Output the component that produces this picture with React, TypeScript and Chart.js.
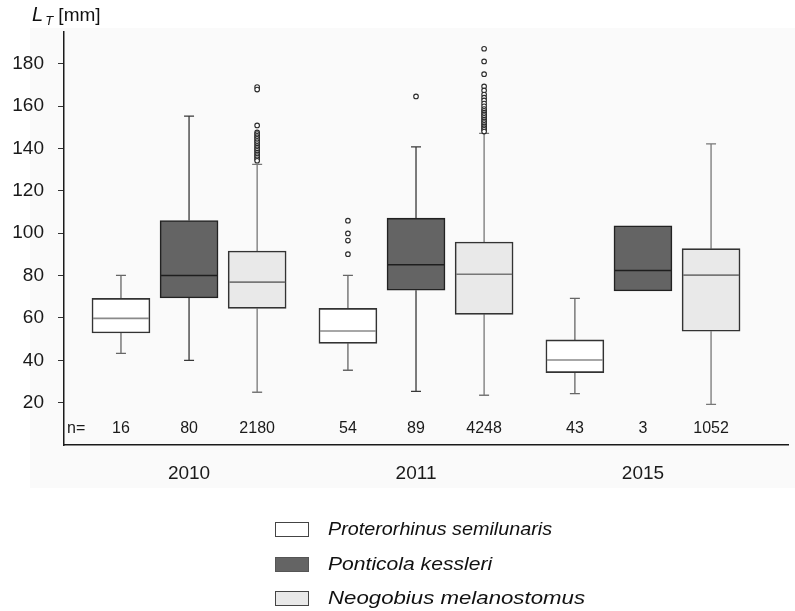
import React, { useEffect, useRef } from "react";
import { Chart, registerables } from "chart.js";

Chart.register(...registerables);

const years = ["2010", "2011", "2015"];
const species = ["Proterorhinus semilunaris", "Ponticola kessleri", "Neogobius melanostomus"];
const yTicks = [20, 40, 60, 80, 100, 120, 140, 160, 180];

// Proterorhinus semilunaris
const psLow = [43.3, 35.3, 24.3];
const psQ1 = [52.9, 48.0, 34.2];
const psMed = [59.8, 53.8, 40.1];
const psQ3 = [69.2, 64.5, 49.6];
const psHigh = [80.1, 80.1, 69.2];
const psN = [16, 54, 43];

// Ponticola kessleri
const pkLow = [40.0, 25.3, null];
const pkQ1 = [69.4, 73.1, 72.7];
const pkMed = [80.0, 85.1, 82.4];
const pkQ3 = [106.0, 107.1, 103.5];
const pkHigh = [155.3, 140.8, null];
const pkN = [80, 89, 3];

// Neogobius melanostomus
const nmLow = [24.9, 23.5, 19.2];
const nmQ1 = [64.5, 61.7, 53.7];
const nmMed = [76.9, 80.6, 80.2];
const nmQ3 = [91.6, 95.8, 92.7];
const nmHigh = [132.5, 147.1, 142.2];
const nmN = [2180, 4248, 1052];

// outliers
const psOut2011 = [105.9, 99.9, 96.5, 90.1];
const pkOut2011 = [164.6];
const nmOut2010 = [169.0, 167.8, 150.9, 147.6, 146.8, 146.0, 145.3, 144.5, 143.6, 142.9, 142.1, 141.2, 140.4, 139.6, 138.9, 138.0, 137.2, 136.4, 135.7, 134.9, 134.2];
const nmOut2011 = [187.1, 181.1, 175.1, 169.3, 167.4, 165.5, 164.0, 162.7, 161.2, 159.9, 158.6, 157.8, 156.9, 156.1, 155.3, 154.5, 153.6, 152.8, 152.0, 151.2, 150.4, 149.6, 148.8, 148.0];

const speciesOffset = [-0.3, 0, 0.3];
const FONT = "'Liberation Sans', Arial, sans-serif";

const stats = [
  { low: psLow, q1: psQ1, med: psMed, q3: psQ3, high: psHigh, n: psN, fill: "#ffffff", border: "#333333", median: "#8a8a8a", whisker: "#666666" },
  { low: pkLow, q1: pkQ1, med: pkMed, q3: pkQ3, high: pkHigh, n: pkN, fill: "#646464", border: "#222222", median: "#1e1e1e", whisker: "#383838" },
  { low: nmLow, q1: nmQ1, med: nmMed, q3: nmQ3, high: nmHigh, n: nmN, fill: "#e9e9e9", border: "#333333", median: "#777777", whisker: "#777777" },
];

const outlierSets = [
  { s: 0, g: 1, vals: psOut2011 },
  { s: 1, g: 1, vals: pkOut2011 },
  { s: 2, g: 0, vals: nmOut2010 },
  { s: 2, g: 1, vals: nmOut2011 },
];

const boxPlugin = {
  id: "boxParts",
  beforeDraw(chart: any) {
    const ctx = chart.ctx;
    ctx.save();
    ctx.fillStyle = "#fafafa";
    ctx.fillRect(30, 28, 765, 460);
    ctx.restore();
  },
  beforeDatasetsDraw(chart: any) {
    const ctx = chart.ctx;
    const xs = chart.scales.x;
    const ys = chart.scales.y;
    ctx.save();
    ctx.lineWidth = 1.3;
    stats.forEach((st, s) => {
      years.forEach((_, g) => {
        const xc = xs.getPixelForValue(g + speciesOffset[s]);
        ctx.strokeStyle = st.whisker;
        const seg = (a: number, b: number) => {
          const ya = ys.getPixelForValue(a);
          const yb = ys.getPixelForValue(b);
          ctx.beginPath();
          ctx.moveTo(xc, ya);
          ctx.lineTo(xc, yb);
          ctx.moveTo(xc - 5, yb);
          ctx.lineTo(xc + 5, yb);
          ctx.stroke();
        };
        if (st.high[g] != null) seg(st.q3[g], st.high[g] as number);
        if (st.low[g] != null) seg(st.q1[g], st.low[g] as number);
      });
    });
    ctx.restore();
  },
  afterDatasetsDraw(chart: any) {
    const ctx = chart.ctx;
    const xs = chart.scales.x;
    const ys = chart.scales.y;
    const area = chart.chartArea;
    ctx.save();
    stats.forEach((st, s) => {
      const meta = chart.getDatasetMeta(s);
      years.forEach((_, g) => {
        const el = meta.data[g];
        const w = el.width;
        const xc = xs.getPixelForValue(g + speciesOffset[s]);
        const ym = ys.getPixelForValue(st.med[g]);
        ctx.strokeStyle = st.median;
        ctx.lineWidth = 1.6;
        ctx.beginPath();
        ctx.moveTo(xc - w / 2 + 1, ym);
        ctx.lineTo(xc + w / 2 - 1, ym);
        ctx.stroke();
      });
    });
    // n labels
    ctx.fillStyle = "#1a1a1a";
    ctx.font = `16px ${FONT}`;
    ctx.textBaseline = "middle";
    ctx.textAlign = "left";
    ctx.fillText("n=", area.left + 3, area.bottom - 16);
    ctx.textAlign = "center";
    stats.forEach((st, s) => {
      years.forEach((_, g) => {
        const xc = xs.getPixelForValue(g + speciesOffset[s]);
        ctx.fillText(String(st.n[g]), xc, area.bottom - 16);
      });
    });
    // year labels
    ctx.font = `19px ${FONT}`;
    years.forEach((y, g) => {
      ctx.fillText(y, xs.getPixelForValue(g), area.bottom + 29);
    });
    ctx.restore();
  },
};

export default function App() {
  const ref = useRef<HTMLCanvasElement | null>(null);
  useEffect(() => {
    if (!ref.current) return;
    const barSets = stats.map((st, s) => ({
      type: "bar" as const,
      label: species[s],
      data: years.map((_, g) => ({ x: g + speciesOffset[s], y: [st.q1[g], st.q3[g]] })),
      backgroundColor: st.fill,
      borderColor: st.border,
      borderWidth: 1.6,
      borderSkipped: false,
      barThickness: 58,
      grouped: false,
      order: 2,
    }));
    const outSets = outlierSets.map((o) => ({
      type: "scatter" as const,
      label: "outliers",
      data: o.vals.map((v) => ({ x: o.g + speciesOffset[o.s], y: v })),
      pointRadius: 2.3,
      pointBorderWidth: 1.1,
      pointBorderColor: "#2a2a2a",
      pointBackgroundColor: "#ffffff",
      showLine: false,
      order: 1,
    }));
    const chart = new Chart(ref.current, {
      type: "bar",
      data: { datasets: [...barSets, ...outSets] as any },
      plugins: [boxPlugin],
      options: {
        animation: false,
        responsive: false,
        layout: { padding: { left: 0, top: 32, right: 7, bottom: 166 } },
        plugins: { legend: { display: false }, tooltip: { enabled: false } },
        scales: {
          x: {
            type: "linear",
            min: -0.551,
            max: 2.639,
            offset: false,
            ticks: { display: false },
            grid: { display: false },
            border: { display: true, color: "#1a1a1a", width: 1.5 },
            afterFit: (s: any) => {
              s.height = 0;
            },
          },
          y: {
            type: "linear",
            min: 0,
            max: 195,
            afterBuildTicks: (s: any) => {
              s.ticks = yTicks.map((v) => ({ value: v }));
            },
            afterFit: (s: any) => {
              s.width = 64;
            },
            ticks: {
              color: "#1a1a1a",
              font: { family: FONT, size: 19 },
              padding: 14,
            },
            grid: { display: true, drawOnChartArea: false, drawTicks: true, tickLength: 6, color: "#333333" },
            border: { display: true, color: "#1a1a1a", width: 1.5 },
          },
        },
      } as any,
    });
    return () => chart.destroy();
  }, []);

  const legendRow = (top: number, fill: string, border: string, text: string, stretch: number) => (
    <div key={text} style={{ position: "absolute", left: 275, top, height: 20, display: "flex", alignItems: "center" }}>
      <div style={{ width: 32, height: 13, background: fill, border: `1px solid ${border}` }} />
      <span
        style={{
          marginLeft: 19,
          fontFamily: FONT,
          fontStyle: "italic",
          fontSize: 19,
          color: "#111",
          whiteSpace: "nowrap",
          display: "inline-block",
          transform: `scaleX(${stretch})`,
          transformOrigin: "left center",
        }}
      >
        {text}
      </span>
    </div>
  );

  return (
    <div style={{ position: "fixed", left: 0, top: 0, width: 795, height: 611, background: "#ffffff" }}>
      <canvas ref={ref} width={795} height={611} style={{ position: "absolute", left: 0, top: 0 }} />
      <div style={{ position: "absolute", left: 32, top: 3, fontFamily: FONT, fontSize: 19, color: "#111", whiteSpace: "nowrap" }}>
        <span style={{ fontStyle: "italic", fontSize: 20 }}>L</span>
        <span style={{ fontStyle: "italic", fontSize: 13, position: "relative", top: 4, marginLeft: 2 }}>T</span>
        <span> [mm]</span>
      </div>
      {legendRow(519, stats[0].fill, "#444", species[0], 1.04)}
      {legendRow(554, stats[1].fill, "#555", species[1], 1.11)}
      {legendRow(588, stats[2].fill, "#444", species[2], 1.17)}
    </div>
  );
}
